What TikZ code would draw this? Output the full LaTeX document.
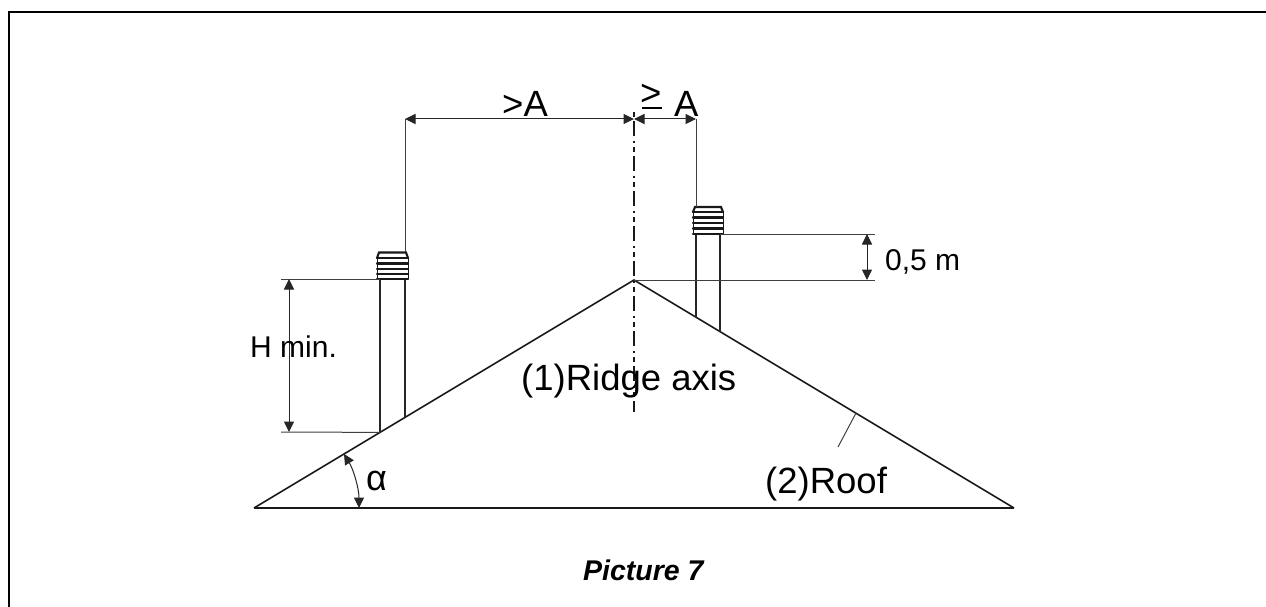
\documentclass[tikz,border=0pt]{standalone}
\usepackage{fontspec}
\setmainfont{Liberation Sans}
\usetikzlibrary{arrows.meta}
\tikzset{
  thinl/.style={line width=1pt,draw=black!75},
  medl/.style={line width=1.4pt,draw=black!85},
  roofl/.style={line width=1.6pt,draw=black!90},
  capl/.style={line width=2.1pt,draw=black!90,line cap=round},
  dim/.style={line width=1pt,draw=black!85,{Triangle[length=10.5pt,width=10pt]}-{Triangle[length=10.5pt,width=10pt]}},
  lab/.style={inner sep=0pt,anchor=base west,text=black}
}
\begin{document}
\begin{tikzpicture}[x=1pt,y=-1pt]
\useasboundingbox (0,0) rectangle (1266,607);
\fill[white] (0,0) rectangle (1266,607);
% frame
\draw[line width=2pt,black] (9,607) -- (9,12.5) -- (1266,12.5);
% key points
\coordinate (ridge) at (634,280);
\coordinate (eaveL) at (254,508);
\coordinate (eaveR) at (1014,508);
\coordinate (axTop) at (634,112);
\coordinate (axBot) at (634,412);
\coordinate (lcL) at (380,279);
\coordinate (lcR) at (405,279);
\coordinate (lcLb) at (380,432.4);
\coordinate (lcRb) at (405,417.4);
\coordinate (rcL) at (696,234);
\coordinate (rcR) at (720,234);
\coordinate (rcLb) at (696,317.2);
\coordinate (rcRb) at (720,331.6);
\coordinate (dimL) at (405,119);
\coordinate (dimM) at (634,119);
\coordinate (dimR) at (696,119);
\coordinate (hT) at (289,279);
\coordinate (hB) at (289,432);
\coordinate (hTs) at (281,279);
\coordinate (hBs) at (281,432);
\coordinate (mT) at (867,234);
\coordinate (mB) at (867,280);
\coordinate (mTe) at (875,234);
\coordinate (mBe) at (875,280);
\coordinate (tickA) at (838,447);
\coordinate (tickB) at (856,413);
% roof
\draw[roofl] (eaveL) -- (ridge) -- (eaveR);
\draw[line width=2.2pt,black!90] (eaveL) -- (eaveR);
% axis
\draw[line width=1.7pt,black!90,dash pattern=on 5pt off 4pt on 15pt off 5pt on 2pt off 4pt] (axTop) -- (axBot);
% chimneys
\draw[medl] (lcL) -- (lcLb) (lcR) -- (lcRb);
\draw[medl] (rcL) -- (rcLb) (rcR) -- (rcRb);
% caps
\foreach \y in {258,263.5,269,274,279}{\draw[capl] (377,\y) -- (408,\y);}
\draw[capl] (377,258) -- (379,252.5) -- (406,252.5) -- (408,258);
\draw[line width=1pt,black!90] (377,258) -- (377,279) (408,258) -- (408,279);
\foreach \y in {212,217.5,223,228.5,234}{\draw[capl] (693,\y) -- (723,\y);}
\draw[capl] (693,212) -- (695,207) -- (721,207) -- (723,212);
\draw[line width=1pt,black!90] (693,212) -- (693,234) (723,212) -- (723,234);
% extension lines
\draw[thinl] (dimL) -- (405,252);
\draw[thinl] (dimR) -- (696,207);
\draw[thinl] (hTs) -- (lcL);
\draw[thinl] (hBs) -- (lcLb);
\draw[thinl] (rcR) -- (mTe);
\draw[thinl] (ridge) -- (mBe);
% dimensions
\draw[dim] (dimL) -- (dimM);
\draw[dim] (dimM) -- (dimR);
\draw[dim] (hT) -- (hB);
\draw[dim] (mT) -- (mB);
\draw[dim] (359,508) arc[start angle=0,end angle=-31,radius=105];
% roof tick
\draw[thinl] (tickA) -- (tickB);
% labels
\node[lab,font=\fontsize{36.5}{36.5}\selectfont] (gtA) at (502,117) {>A};
\node[lab,font=\fontsize{36.5}{36.5}\selectfont] (geS) at (640,106) {>};
\draw[line width=1.3pt,black] (641.5,108) -- (662,108);
\node[lab,font=\fontsize{36.5}{36.5}\selectfont] (geA) at (674,117) {A};
\node[lab,font=\fontsize{30}{30}\selectfont] (m) at (885,270) {0,5 m};
\node[lab,font=\fontsize{30}{30}\selectfont] (hmin) at (250,357) {H min.};
\node[lab,font=\fontsize{36.5}{36.5}\selectfont] (ridgeT) at (521,390) {(1)Ridge axis};
\node[lab,font=\fontsize{36.5}{36.5}\selectfont] (roofT) at (765,493) {(2)Roof};
\node[lab,font=\fontsize{36}{36}\selectfont] (al) at (366,490) {α};
\node[lab,font=\fontsize{28.5}{28.5}\selectfont\bfseries\itshape] (pic) at (583,580) {Picture 7};
\end{tikzpicture}
\end{document}
